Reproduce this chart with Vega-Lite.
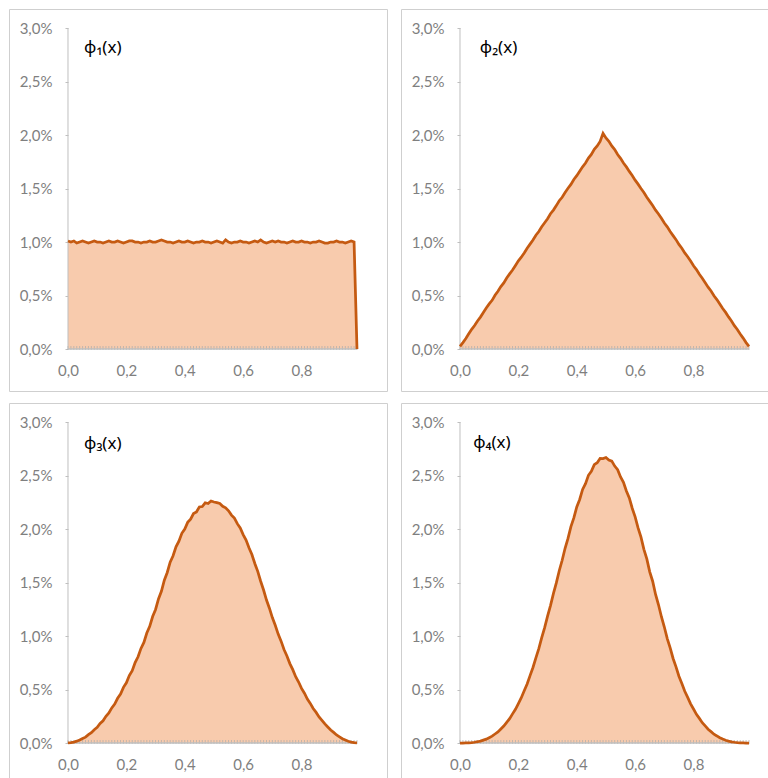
{
"$schema": "https://vega.github.io/schema/vega-lite/v6.json",
"padding": {"left": 8, "top": 8, "right": 0, "bottom": 0},
"config": {
  "locale": {"number": {"decimal": ",", "thousands": ".", "grouping": [3], "currency": ["", " €"]}},
  "view": {"stroke": "#CFCFCF", "strokeWidth": 1},
  "axis": {"labelFont": "Lato", "labelFontSize": 15, "labelColor": "#7F7F7F", "tickColor": "#BFBFBF", "tickWidth": 1, "labelOverlap": false, "labelFlush": false, "labelBound": false}
},
"datasets": {"d": [
{"x":0,"a":0.0101,"b":0.00025,"c":0.00002,"d":0},
{"x":0.01,"a":0.0100,"b":0.00060,"c":0.00004,"d":0},
{"x":0.02,"a":0.0101,"b":0.00098,"c":0.00009,"d":0.00001},
{"x":0.03,"a":0.0099,"b":0.00142,"c":0.00017,"d":0.00002},
{"x":0.04,"a":0.0100,"b":0.00184,"c":0.00028,"d":0.00004},
{"x":0.05,"a":0.0101,"b":0.00220,"c":0.00042,"d":0.00007},
{"x":0.06,"a":0.0100,"b":0.00262,"c":0.00055,"d":0.00012},
{"x":0.07,"a":0.0099,"b":0.00298,"c":0.00078,"d":0.00018},
{"x":0.08,"a":0.0100,"b":0.00340,"c":0.00096,"d":0.00027},
{"x":0.09,"a":0.0101,"b":0.00384,"c":0.00124,"d":0.00036},
{"x":0.10,"a":0.0100,"b":0.00422,"c":0.00146,"d":0.00050},
{"x":0.11,"a":0.0100,"b":0.00455,"c":0.00182,"d":0.00064},
{"x":0.12,"a":0.0099,"b":0.00502,"c":0.00208,"d":0.00084},
{"x":0.13,"a":0.0100,"b":0.00540,"c":0.00250,"d":0.00104},
{"x":0.14,"a":0.0101,"b":0.00583,"c":0.00280,"d":0.00131},
{"x":0.15,"a":0.0100,"b":0.00618,"c":0.00328,"d":0.00158},
{"x":0.16,"a":0.0100,"b":0.00664,"c":0.00364,"d":0.00193},
{"x":0.17,"a":0.0101,"b":0.00702,"c":0.00418,"d":0.00228},
{"x":0.18,"a":0.0100,"b":0.00738,"c":0.00458,"d":0.00272},
{"x":0.19,"a":0.0099,"b":0.00781,"c":0.00520,"d":0.00315},
{"x":0.20,"a":0.0100,"b":0.00824,"c":0.00562,"d":0.00369},
{"x":0.21,"a":0.0101,"b":0.00858,"c":0.00630,"d":0.00423},
{"x":0.22,"a":0.0101,"b":0.00898,"c":0.00676,"d":0.00488},
{"x":0.23,"a":0.0100,"b":0.00942,"c":0.00752,"d":0.00552},
{"x":0.24,"a":0.0100,"b":0.00980,"c":0.00806,"d":0.00630},
{"x":0.25,"a":0.0099,"b":0.01018,"c":0.00884,"d":0.00706},
{"x":0.26,"a":0.0100,"b":0.01063,"c":0.00940,"d":0.00796},
{"x":0.27,"a":0.0100,"b":0.01098,"c":0.01028,"d":0.00882},
{"x":0.28,"a":0.0101,"b":0.01142,"c":0.01090,"d":0.00984},
{"x":0.29,"a":0.0100,"b":0.01180,"c":0.01182,"d":0.01078},
{"x":0.30,"a":0.0100,"b":0.01218,"c":0.01248,"d":0.01186},
{"x":0.31,"a":0.0101,"b":0.01264,"c":0.01346,"d":0.01284},
{"x":0.32,"a":0.0102,"b":0.01298,"c":0.01418,"d":0.01396},
{"x":0.33,"a":0.0101,"b":0.01340,"c":0.01522,"d":0.01496},
{"x":0.34,"a":0.0100,"b":0.01386,"c":0.01594,"d":0.01610},
{"x":0.35,"a":0.0100,"b":0.01418,"c":0.01690,"d":0.01708},
{"x":0.36,"a":0.0099,"b":0.01462,"c":0.01750,"d":0.01820},
{"x":0.37,"a":0.0100,"b":0.01502,"c":0.01834,"d":0.01912},
{"x":0.38,"a":0.0101,"b":0.01538,"c":0.01886,"d":0.02022},
{"x":0.39,"a":0.0100,"b":0.01584,"c":0.01960,"d":0.02104},
{"x":0.40,"a":0.0100,"b":0.01620,"c":0.02000,"d":0.02206},
{"x":0.41,"a":0.0101,"b":0.01662,"c":0.02062,"d":0.02276},
{"x":0.42,"a":0.0100,"b":0.01703,"c":0.02092,"d":0.02370},
{"x":0.43,"a":0.0099,"b":0.01738,"c":0.02144,"d":0.02424},
{"x":0.44,"a":0.0100,"b":0.01784,"c":0.02160,"d":0.02502},
{"x":0.45,"a":0.0100,"b":0.01818,"c":0.02206,"d":0.02540},
{"x":0.46,"a":0.0101,"b":0.01866,"c":0.02210,"d":0.02602},
{"x":0.47,"a":0.0100,"b":0.01898,"c":0.02245,"d":0.02620},
{"x":0.48,"a":0.0100,"b":0.01940,"c":0.02238,"d":0.02660},
{"x":0.49,"a":0.0099,"b":0.02015,"c":0.02262,"d":0.02658},
{"x":0.50,"a":0.0100,"b":0.01972,"c":0.02252,"d":0.02668},
{"x":0.51,"a":0.0101,"b":0.01942,"c":0.02246,"d":0.02645},
{"x":0.52,"a":0.0100,"b":0.01898,"c":0.02238,"d":0.02634},
{"x":0.53,"a":0.0099,"b":0.01864,"c":0.02212,"d":0.02588},
{"x":0.54,"a":0.0102,"b":0.01818,"c":0.02198,"d":0.02554},
{"x":0.55,"a":0.0100,"b":0.01782,"c":0.02170,"d":0.02486},
{"x":0.56,"a":0.0099,"b":0.01738,"c":0.02130,"d":0.02436},
{"x":0.57,"a":0.0100,"b":0.01702,"c":0.02102,"d":0.02356},
{"x":0.58,"a":0.0100,"b":0.01660,"c":0.02050,"d":0.02290},
{"x":0.59,"a":0.0101,"b":0.01622,"c":0.02010,"d":0.02194},
{"x":0.60,"a":0.0100,"b":0.01578,"c":0.01948,"d":0.02114},
{"x":0.61,"a":0.0100,"b":0.01541,"c":0.01896,"d":0.02010},
{"x":0.62,"a":0.0099,"b":0.01500,"c":0.01824,"d":0.01924},
{"x":0.63,"a":0.0100,"b":0.01462,"c":0.01762,"d":0.01810},
{"x":0.64,"a":0.0101,"b":0.01418,"c":0.01678,"d":0.01720},
{"x":0.65,"a":0.0100,"b":0.01380,"c":0.01604,"d":0.01600},
{"x":0.66,"a":0.0102,"b":0.01342,"c":0.01512,"d":0.01512},
{"x":0.67,"a":0.0100,"b":0.01298,"c":0.01430,"d":0.01388},
{"x":0.68,"a":0.0099,"b":0.01262,"c":0.01336,"d":0.01292},
{"x":0.69,"a":0.0100,"b":0.01222,"c":0.01260,"d":0.01180},
{"x":0.70,"a":0.0101,"b":0.01178,"c":0.01172,"d":0.01084},
{"x":0.71,"a":0.0100,"b":0.01142,"c":0.01100,"d":0.00976},
{"x":0.72,"a":0.0101,"b":0.01098,"c":0.01018,"d":0.00890},
{"x":0.73,"a":0.0100,"b":0.01060,"c":0.00952,"d":0.00790},
{"x":0.74,"a":0.0100,"b":0.01022,"c":0.00874,"d":0.00712},
{"x":0.75,"a":0.0099,"b":0.00978,"c":0.00814,"d":0.00624},
{"x":0.76,"a":0.0100,"b":0.00942,"c":0.00742,"d":0.00556},
{"x":0.77,"a":0.0101,"b":0.00898,"c":0.00686,"d":0.00484},
{"x":0.78,"a":0.0100,"b":0.00862,"c":0.00620,"d":0.00426},
{"x":0.79,"a":0.0100,"b":0.00822,"c":0.00570,"d":0.00366},
{"x":0.80,"a":0.0101,"b":0.00778,"c":0.00510,"d":0.00318},
{"x":0.81,"a":0.0100,"b":0.00742,"c":0.00465,"d":0.00268},
{"x":0.82,"a":0.0100,"b":0.00698,"c":0.00410,"d":0.00230},
{"x":0.83,"a":0.0099,"b":0.00662,"c":0.00370,"d":0.00190},
{"x":0.84,"a":0.0100,"b":0.00620,"c":0.00322,"d":0.00160},
{"x":0.85,"a":0.0100,"b":0.00578,"c":0.00286,"d":0.00129},
{"x":0.86,"a":0.0101,"b":0.00542,"c":0.00244,"d":0.00106},
{"x":0.87,"a":0.0100,"b":0.00498,"c":0.00212,"d":0.00082},
{"x":0.88,"a":0.0099,"b":0.00462,"c":0.00178,"d":0.00066},
{"x":0.89,"a":0.0099,"b":0.00420,"c":0.00150,"d":0.00049},
{"x":0.90,"a":0.0100,"b":0.00378,"c":0.00121,"d":0.00037},
{"x":0.91,"a":0.0100,"b":0.00342,"c":0.00099,"d":0.00026},
{"x":0.92,"a":0.0101,"b":0.00300,"c":0.00075,"d":0.00018},
{"x":0.93,"a":0.0100,"b":0.00262,"c":0.00058,"d":0.00011},
{"x":0.94,"a":0.0100,"b":0.00218,"c":0.00040,"d":0.00007},
{"x":0.95,"a":0.0099,"b":0.00182,"c":0.00028,"d":0.00004},
{"x":0.96,"a":0.0100,"b":0.00140,"c":0.00016,"d":0.00002},
{"x":0.97,"a":0.0101,"b":0.00102,"c":0.00009,"d":0.00001},
{"x":0.98,"a":0.0100,"b":0.00060,"c":0.00003,"d":0},
{"x":0.99,"a":0,"b":0.00025,"c":0.00001,"d":0}
]},
"spacing": 10,
"vconcat": [
{"spacing": 12, "hconcat": [
{"width": 378, "height": 382, "data": {"name": "d"}, "layer": [
 {"mark": {"type": "area", "color": "#F8CBAD"}, "encoding": {
  "x": {"field": "x", "type": "quantitative", "scale": {"domain": [-0.2021, 1.0928], "nice": false, "zero": false},
   "axis": {"values": [0, 0.2, 0.4, 0.6, 0.8], "format": ".1f", "labelOverlap": false, "offset": -42, "domain": false, "grid": false, "ticks": false, "title": null, "labelPadding": 14}},
  "y": {"field": "a", "type": "quantitative", "scale": {"domain": [-0.003925, 0.031776], "nice": false, "zero": false},
   "axis": {"values": [0,0.0025,0.005,0.0075,0.01,0.0125,0.015,0.0175,0.02,0.0225,0.025,0.0275,0.03], "format": ".1%", "labelExpr": "round(datum.value*400)%2==0 ? datum.label : ''", "labelOverlap": false, "offset": -59, "domain": false, "grid": false, "title": null, "tickSize": 3, "labelPadding": 13}},
  "y2": {"datum": 0}}},
 {"mark": {"type": "tick", "orient": "vertical", "color": "#ABABAB", "size": 4, "thickness": 1, "yOffset": -1}, "encoding": {"x": {"field": "x", "type": "quantitative"}, "y": {"datum": 0}}},
 {"data": {"values": [{}]}, "mark": {"type": "rule", "color": "#BFBFBF", "strokeWidth": 1}, "encoding": {"x": {"datum": 0}, "y": {"datum": 0}, "y2": {"datum": 0.03}}},
 {"data": {"values": [{}]}, "mark": {"type": "rule", "color": "#BFBFBF", "strokeWidth": 1.5}, "encoding": {"x": {"datum": 0}, "x2": {"datum": 0.99}, "y": {"datum": 0}}},
 {"mark": {"type": "line", "color": "#C55A11", "strokeWidth": 2.75}, "encoding": {"x": {"field": "x", "type": "quantitative"}, "y": {"field": "a", "type": "quantitative"}}},
 {"data": {"values": [{}]}, "mark": {"type": "text", "align": "left", "baseline": "middle", "fontSize": 17, "font": "Noto Sans", "color": "#000000"}, "encoding": {"x": {"datum": 0.055}, "y": {"datum": 0.0281}, "text": {"value": "ϕ₁(x)"}}}
]},
{"width": 378, "height": 382, "data": {"name": "d"}, "layer": [
 {"mark": {"type": "area", "color": "#F8CBAD"}, "encoding": {
  "x": {"field": "x", "type": "quantitative", "scale": {"domain": [-0.2021, 1.0928], "nice": false, "zero": false},
   "axis": {"values": [0, 0.2, 0.4, 0.6, 0.8], "format": ".1f", "labelOverlap": false, "offset": -42, "domain": false, "grid": false, "ticks": false, "title": null, "labelPadding": 14}},
  "y": {"field": "b", "type": "quantitative", "scale": {"domain": [-0.003925, 0.031776], "nice": false, "zero": false},
   "axis": {"values": [0,0.0025,0.005,0.0075,0.01,0.0125,0.015,0.0175,0.02,0.0225,0.025,0.0275,0.03], "format": ".1%", "labelExpr": "round(datum.value*400)%2==0 ? datum.label : ''", "labelOverlap": false, "offset": -59, "domain": false, "grid": false, "title": null, "tickSize": 3, "labelPadding": 13}},
  "y2": {"datum": 0}}},
 {"mark": {"type": "tick", "orient": "vertical", "color": "#ABABAB", "size": 4, "thickness": 1, "yOffset": -1}, "encoding": {"x": {"field": "x", "type": "quantitative"}, "y": {"datum": 0}}},
 {"data": {"values": [{}]}, "mark": {"type": "rule", "color": "#BFBFBF", "strokeWidth": 1}, "encoding": {"x": {"datum": 0}, "y": {"datum": 0}, "y2": {"datum": 0.03}}},
 {"data": {"values": [{}]}, "mark": {"type": "rule", "color": "#BFBFBF", "strokeWidth": 1.5}, "encoding": {"x": {"datum": 0}, "x2": {"datum": 0.99}, "y": {"datum": 0}}},
 {"mark": {"type": "line", "color": "#C55A11", "strokeWidth": 2.75}, "encoding": {"x": {"field": "x", "type": "quantitative"}, "y": {"field": "b", "type": "quantitative"}}},
 {"data": {"values": [{}]}, "mark": {"type": "text", "align": "left", "baseline": "middle", "fontSize": 17, "font": "Noto Sans", "color": "#000000"}, "encoding": {"x": {"datum": 0.068}, "y": {"datum": 0.0281}, "text": {"value": "ϕ₂(x)"}}}
]}
]},
{"spacing": 12, "hconcat": [
{"width": 378, "height": 382, "data": {"name": "d"}, "layer": [
 {"mark": {"type": "area", "color": "#F8CBAD"}, "encoding": {
  "x": {"field": "x", "type": "quantitative", "scale": {"domain": [-0.2021, 1.0928], "nice": false, "zero": false},
   "axis": {"values": [0, 0.2, 0.4, 0.6, 0.8], "format": ".1f", "labelOverlap": false, "offset": -42, "domain": false, "grid": false, "ticks": false, "title": null, "labelPadding": 14}},
  "y": {"field": "c", "type": "quantitative", "scale": {"domain": [-0.003925, 0.031776], "nice": false, "zero": false},
   "axis": {"values": [0,0.0025,0.005,0.0075,0.01,0.0125,0.015,0.0175,0.02,0.0225,0.025,0.0275,0.03], "format": ".1%", "labelExpr": "round(datum.value*400)%2==0 ? datum.label : ''", "labelOverlap": false, "offset": -59, "domain": false, "grid": false, "title": null, "tickSize": 3, "labelPadding": 13}},
  "y2": {"datum": 0}}},
 {"mark": {"type": "tick", "orient": "vertical", "color": "#ABABAB", "size": 4, "thickness": 1, "yOffset": -1}, "encoding": {"x": {"field": "x", "type": "quantitative"}, "y": {"datum": 0}}},
 {"data": {"values": [{}]}, "mark": {"type": "rule", "color": "#BFBFBF", "strokeWidth": 1}, "encoding": {"x": {"datum": 0}, "y": {"datum": 0}, "y2": {"datum": 0.03}}},
 {"data": {"values": [{}]}, "mark": {"type": "rule", "color": "#BFBFBF", "strokeWidth": 1.5}, "encoding": {"x": {"datum": 0}, "x2": {"datum": 0.99}, "y": {"datum": 0}}},
 {"mark": {"type": "line", "color": "#C55A11", "strokeWidth": 2.75}, "encoding": {"x": {"field": "x", "type": "quantitative"}, "y": {"field": "c", "type": "quantitative"}}},
 {"data": {"values": [{}]}, "mark": {"type": "text", "align": "left", "baseline": "middle", "fontSize": 17, "font": "Noto Sans", "color": "#000000"}, "encoding": {"x": {"datum": 0.055}, "y": {"datum": 0.0279}, "text": {"value": "ϕ₃(x)"}}}
]},
{"width": 378, "height": 382, "data": {"name": "d"}, "layer": [
 {"mark": {"type": "area", "color": "#F8CBAD"}, "encoding": {
  "x": {"field": "x", "type": "quantitative", "scale": {"domain": [-0.2021, 1.0928], "nice": false, "zero": false},
   "axis": {"values": [0, 0.2, 0.4, 0.6, 0.8], "format": ".1f", "labelOverlap": false, "offset": -42, "domain": false, "grid": false, "ticks": false, "title": null, "labelPadding": 14}},
  "y": {"field": "d", "type": "quantitative", "scale": {"domain": [-0.003925, 0.031776], "nice": false, "zero": false},
   "axis": {"values": [0,0.0025,0.005,0.0075,0.01,0.0125,0.015,0.0175,0.02,0.0225,0.025,0.0275,0.03], "format": ".1%", "labelExpr": "round(datum.value*400)%2==0 ? datum.label : ''", "labelOverlap": false, "offset": -59, "domain": false, "grid": false, "title": null, "tickSize": 3, "labelPadding": 13}},
  "y2": {"datum": 0}}},
 {"mark": {"type": "tick", "orient": "vertical", "color": "#ABABAB", "size": 4, "thickness": 1, "yOffset": -1}, "encoding": {"x": {"field": "x", "type": "quantitative"}, "y": {"datum": 0}}},
 {"data": {"values": [{}]}, "mark": {"type": "rule", "color": "#BFBFBF", "strokeWidth": 1}, "encoding": {"x": {"datum": 0}, "y": {"datum": 0}, "y2": {"datum": 0.03}}},
 {"data": {"values": [{}]}, "mark": {"type": "rule", "color": "#BFBFBF", "strokeWidth": 1.5}, "encoding": {"x": {"datum": 0}, "x2": {"datum": 0.99}, "y": {"datum": 0}}},
 {"mark": {"type": "line", "color": "#C55A11", "strokeWidth": 2.75}, "encoding": {"x": {"field": "x", "type": "quantitative"}, "y": {"field": "d", "type": "quantitative"}}},
 {"data": {"values": [{}]}, "mark": {"type": "text", "align": "left", "baseline": "middle", "fontSize": 17, "font": "Noto Sans", "color": "#000000"}, "encoding": {"x": {"datum": 0.045}, "y": {"datum": 0.0280}, "text": {"value": "ϕ₄(x)"}}}
]}
]}
]
}
